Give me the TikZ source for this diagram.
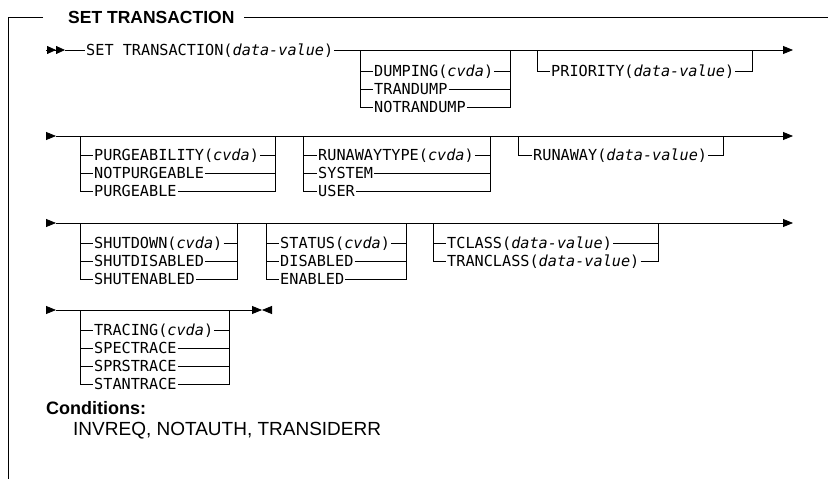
\documentclass[tikz,border=0pt]{standalone}
\usepackage{fontspec}
\setmainfont{Liberation Sans}
\newfontfamily\railfont{DejaVu Sans Mono}
\usetikzlibrary{arrows.meta, positioning}
\tikzstyle{rail} = [line width=0.8pt]
\tikzstyle{frame} = [line width=1pt]
\tikzstyle{kw} = [anchor=west, 
inner sep=1pt, 
text height=10pt, 
text depth=0pt,
font=\railfont\fontsize{15.2pt}{18pt}\selectfont]
\tikzstyle{head} = [anchor=west, 
inner sep=0pt, 
font=\bfseries\fontsize{17.5pt}{21pt}\selectfont]
\tikzstyle{arrow} = [-{Triangle[length=10pt,width=8pt]}]
\tikzstyle{dblarrow} = [-{Triangle[length=9pt,width=8pt,sep=0pt]Triangle[length=9pt,width=8pt]}]

\begin{document}
\begin{tikzpicture}[x=1pt, y=-1pt]
\useasboundingbox (0,0) rectangle (828,479);
% frame and title
\node (title) [head] at (68,17.5) {SET TRANSACTION};
\coordinate (ftl) at (43,17.5);
\coordinate (fcorner) at (8,17.5);
\coordinate (fbottom) at (8,479);
\coordinate (fright) at (828,17.5);
\coordinate (ftr) at (244,17.5);
\draw [frame] (ftl) -- (fcorner) -- (fbottom);
\draw [frame] (ftr) -- (fright);
% row 1
\coordinate (r1s) at (46,50);
\coordinate (r1t) at (65,50);
\coordinate (r1e) at (793,50);
\node (settr) [kw] at (85,50) {SET TRANSACTION(\textit{data-value})};
\draw [rail, dblarrow] (r1s) -- (r1t);
\draw [rail] (r1t) -- (settr.west);
\draw [rail, arrow] (settr.east) -- (r1e);
\coordinate (dmpl) at (360,50);
\coordinate (dmpr) at (510,50);
\node (dmp1) [kw] at (373,71) {DUMPING(\textit{cvda})};
\node (dmp2) [kw] at (373,89) {TRANDUMP};
\node (dmp3) [kw] at (373,107) {NOTRANDUMP};
\draw [rail] (dmpl) |- (dmp3.west);
\draw [rail] (dmpl |- dmp1) -- (dmp1.west);
\draw [rail] (dmpl |- dmp2) -- (dmp2.west);
\draw [rail] (dmp1.east) -- (dmpr |- dmp1);
\draw [rail] (dmp2.east) -- (dmpr |- dmp2);
\draw [rail] (dmp3.east) -| (dmpr);
\coordinate (pril) at (537,50);
\coordinate (prir) at (752,50);
\node (pri) [kw] at (550,71) {PRIORITY(\textit{data-value})};
\draw [rail] (pril) |- (pri.west);
\draw [rail] (pri.east) -| (prir);
% row 2
\coordinate (r2s) at (46,136);
\coordinate (r2t) at (56,136);
\coordinate (r2e) at (793,136);
\draw [rail, arrow] (r2s) -- (r2t);
\draw [rail, arrow] (r2t) -- (r2e);
\coordinate (purl) at (80,136);
\coordinate (purr) at (275,136);
\node (pur1) [kw] at (93,155) {PURGEABILITY(\textit{cvda})};
\node (pur2) [kw] at (93,173) {NOTPURGEABLE};
\node (pur3) [kw] at (93,191) {PURGEABLE};
\draw [rail] (purl) |- (pur3.west);
\draw [rail] (purl |- pur1) -- (pur1.west);
\draw [rail] (purl |- pur2) -- (pur2.west);
\draw [rail] (pur1.east) -- (purr |- pur1);
\draw [rail] (pur2.east) -- (purr |- pur2);
\draw [rail] (pur3.east) -| (purr);
\coordinate (rtyl) at (303,136);
\coordinate (rtyr) at (490,136);
\node (rty1) [kw] at (317,155) {RUNAWAYTYPE(\textit{cvda})};
\node (rty2) [kw] at (317,173) {SYSTEM};
\node (rty3) [kw] at (317,191) {USER};
\draw [rail] (rtyl) |- (rty3.west);
\draw [rail] (rtyl |- rty1) -- (rty1.west);
\draw [rail] (rtyl |- rty2) -- (rty2.west);
\draw [rail] (rty1.east) -- (rtyr |- rty1);
\draw [rail] (rty2.east) -- (rtyr |- rty2);
\draw [rail] (rty3.east) -| (rtyr);
\coordinate (runl) at (518,136);
\coordinate (runr) at (723,136);
\node (run) [kw] at (532,155) {RUNAWAY(\textit{data-value})};
\draw [rail] (runl) |- (run.west);
\draw [rail] (run.east) -| (runr);
% row 3
\coordinate (r3s) at (46,223);
\coordinate (r3t) at (56,223);
\coordinate (r3e) at (793,223);
\draw [rail, arrow] (r3s) -- (r3t);
\draw [rail, arrow] (r3t) -- (r3e);
\coordinate (shul) at (80,223);
\coordinate (shur) at (237,223);
\node (shu1) [kw] at (93,243) {SHUTDOWN(\textit{cvda})};
\node (shu2) [kw] at (93,261) {SHUTDISABLED};
\node (shu3) [kw] at (93,279) {SHUTENABLED};
\draw [rail] (shul) |- (shu3.west);
\draw [rail] (shul |- shu1) -- (shu1.west);
\draw [rail] (shul |- shu2) -- (shu2.west);
\draw [rail] (shu1.east) -- (shur |- shu1);
\draw [rail] (shu2.east) -- (shur |- shu2);
\draw [rail] (shu3.east) -| (shur);
\coordinate (stal) at (266,223);
\coordinate (star) at (406,223);
\node (sta1) [kw] at (279,243) {STATUS(\textit{cvda})};
\node (sta2) [kw] at (279,261) {DISABLED};
\node (sta3) [kw] at (279,279) {ENABLED};
\draw [rail] (stal) |- (sta3.west);
\draw [rail] (stal |- sta1) -- (sta1.west);
\draw [rail] (stal |- sta2) -- (sta2.west);
\draw [rail] (sta1.east) -- (star |- sta1);
\draw [rail] (sta2.east) -- (star |- sta2);
\draw [rail] (sta3.east) -| (star);
\coordinate (tcll) at (433,223);
\coordinate (tclr) at (658,223);
\node (tcl1) [kw] at (446,243) {TCLASS(\textit{data-value})};
\node (tcl2) [kw] at (446,261) {TRANCLASS(\textit{data-value})};
\draw [rail] (tcll) |- (tcl2.west);
\draw [rail] (tcll |- tcl1) -- (tcl1.west);
\draw [rail] (tcl1.east) -- (tclr |- tcl1);
\draw [rail] (tcl2.east) -| (tclr);
% row 4
\coordinate (r4s) at (46,310);
\coordinate (r4t) at (56,310);
\coordinate (r4e) at (262,310);
\coordinate (r4x) at (271,310);
\draw [rail, arrow] (r4s) -- (r4t);
\draw [rail, arrow] (r4t) -- (r4e);
\draw [rail, arrow] (r4x) -- (r4e);
\coordinate (trcl) at (80,310);
\coordinate (trcr) at (229,310);
\node (trc1) [kw] at (93,330) {TRACING(\textit{cvda})};
\node (trc2) [kw] at (93,348) {SPECTRACE};
\node (trc3) [kw] at (93,366) {SPRSTRACE};
\node (trc4) [kw] at (93,384) {STANTRACE};
\draw [rail] (trcl) |- (trc4.west);
\draw [rail] (trcl |- trc1) -- (trc1.west);
\draw [rail] (trcl |- trc2) -- (trc2.west);
\draw [rail] (trcl |- trc3) -- (trc3.west);
\draw [rail] (trc1.east) -- (trcr |- trc1);
\draw [rail] (trc2.east) -- (trcr |- trc2);
\draw [rail] (trc3.east) -- (trcr |- trc3);
\draw [rail] (trc4.east) -| (trcr);
% conditions
\node (cond) [head, font=\bfseries\fontsize{18pt}{21pt}\selectfont] at (46,408) {Conditions:};
\node (condl) [anchor=west, inner sep=0pt, font=\fontsize{19pt}{23pt}\selectfont] at (73,431) {INVREQ, NOTAUTH, TRANSIDERR};
\end{tikzpicture}
\end{document}
